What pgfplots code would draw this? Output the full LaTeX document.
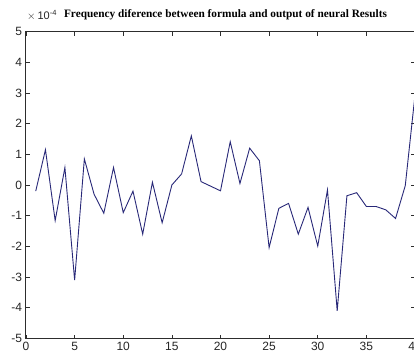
\documentclass[border=0pt]{standalone}
\usepackage{pgfplots}
\pgfplotsset{compat=1.18}
\usepackage{fontspec}
\setmainfont{Liberation Sans}
\newfontfamily\titlefont{Liberation Serif}

\definecolor{linenavy}{RGB}{40,40,120}
\definecolor{axisgray}{RGB}{45,45,45}

\begin{document}
\begin{tikzpicture}[x=1pt,y=1pt]
\begin{axis}[
  name=ax,
  at={(26pt,19.5pt)}, anchor=south west,
  scale only axis, width=389pt, height=307pt,
  xmin=0, xmax=40, ymin=-5, ymax=5,
  xtick={0,5,...,40},
  xticklabels={0,5,10,15,20,25,30,35,40},
  ytick={-5,-4,...,5},
  yticklabels={-5,-4,-3,-2,-1,0,1,2,3,4,5},
  xtick pos=both, ytick pos=both,
  xticklabel pos=lower, yticklabel pos=left,
  tick align=inside,
  major tick length=4pt,
  axis line style={axisgray, line width=1pt},
  tick style={axisgray, line width=0.7pt},
  ticklabel style={font=\fontsize{12}{12}\selectfont, text=black!85},
  xticklabel style={yshift=-0.5pt},
  yticklabel style={xshift=-0.5pt},
]
\addplot[color=linenavy, line width=0.9pt, mark=none] coordinates {
  (1,-0.20) (2,1.15) (3,-1.16) (4,0.57) (5,-3.10)
  (6,0.85) (7,-0.30) (8,-0.92) (9,0.57) (10,-0.90)
  (11,-0.20) (12,-1.60) (13,0.09) (14,-1.23) (15,0.00)
  (16,0.36) (17,1.60) (18,0.11) (19,-0.04) (20,-0.19)
  (21,1.41) (22,0.05) (23,1.20) (24,0.79) (25,-2.04)
  (26,-0.76) (27,-0.60) (28,-1.60) (29,-0.73) (30,-1.99)
  (31,-0.16) (32,-4.10) (33,-0.35) (34,-0.25) (35,-0.70)
  (36,-0.70) (37,-0.81) (38,-1.09) (39,-0.02) (40,2.93)
};
\end{axis}
% exponent of the y axis
\node[anchor=base west, inner sep=0pt, text=black!85,
      font=\fontsize{11}{11}\selectfont]
  at ([xshift=1pt, yshift=12pt]ax.north west)
  {$\times$\,10\raisebox{4.5pt}{\fontsize{7.5}{7.5}\selectfont -4}};
% title
\node[anchor=base, inner sep=0pt,
      font=\titlefont\bfseries\fontsize{11.3}{11.3}\selectfont]
  at ([xshift=5pt, yshift=14pt]ax.north)
  {Frequency diference between formula and output of neural Results};
\pgfresetboundingbox
\useasboundingbox (0,0) rectangle (414,358);
\end{tikzpicture}
\end{document}
